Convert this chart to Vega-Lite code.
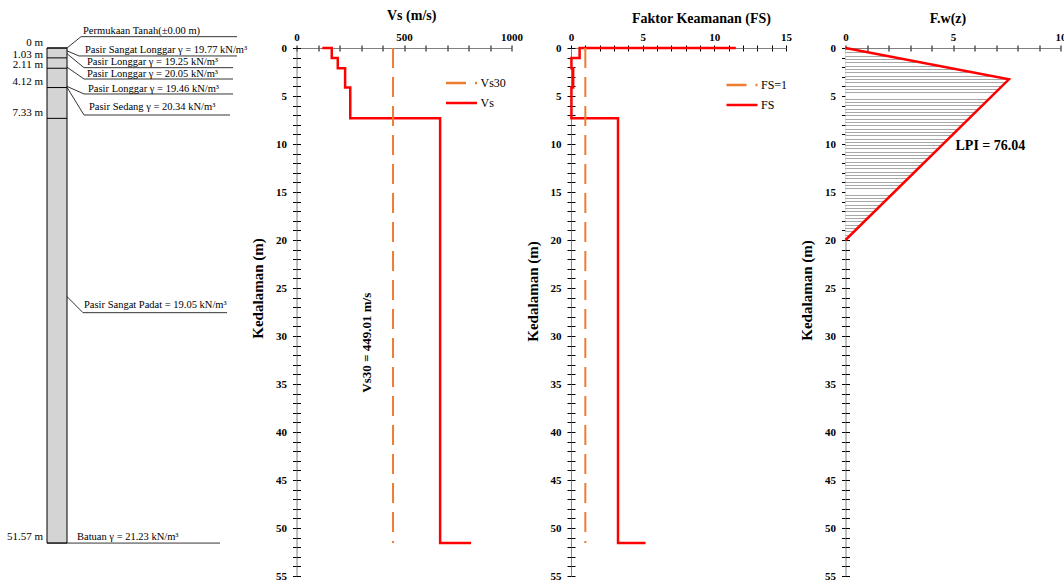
{
  "$schema": "https://vega.github.io/schema/vega-lite/v6.json",
  "background": "white",
  "padding": {"left": 0, "top": 8, "right": 0, "bottom": 0},
  "bounds": "flush",
  "spacing": 59.5,
  "resolve": {"scale": {"color": "independent", "strokeDash": "independent"}, "legend": {"color": "independent", "strokeDash": "independent"}},
  "config": {
    "view": {"stroke": null},
    "font": "Liberation Serif",
    "axis": {"labelFont": "Liberation Serif", "titleFont": "Liberation Serif", "labelColor": "#000", "titleColor": "#000", "labelFontSize": 11, "labelFontWeight": "bold", "titleFontWeight": "bold", "domainColor": "#808080", "domainWidth": 1, "tickColor": "#000", "tickWidth": 1, "grid": false, "labelOverlap": false, "labelFlush": false, "labelBound": false},
    "axisX": {"tickSize": 3, "labelPadding": 3, "titleFontSize": 14},
    "axisY": {"tickSize": 4, "labelPadding": 6, "titleFontSize": 15, "titlePadding": 10},
    "text": {"font": "Liberation Serif"}
  },
  "datasets": {
    "layers": [{"d": 0}, {"d": 1.03}, {"d": 2.11}, {"d": 4.12}, {"d": 7.33}],
    "column": [{"top": 0, "bottom": 51.57}],
    "leaders": [
      {"id": "perm", "o": 0, "x": 67, "d": 0.0}, {"id": "perm", "o": 1, "x": 81, "d": -1.18}, {"id": "perm", "o": 2, "x": 237, "d": -1.18},
      {"id": "psl", "o": 0, "x": 67, "d": 0.3}, {"id": "psl", "o": 1, "x": 79, "d": 0.83}, {"id": "psl", "o": 2, "x": 237, "d": 0.83},
      {"id": "pl1", "o": 0, "x": 67, "d": 0.6}, {"id": "pl1", "o": 1, "x": 84, "d": 2.05}, {"id": "pl1", "o": 2, "x": 233, "d": 2.05},
      {"id": "pl2", "o": 0, "x": 67, "d": 2.0}, {"id": "pl2", "o": 1, "x": 84, "d": 3.23}, {"id": "pl2", "o": 2, "x": 233, "d": 3.23},
      {"id": "pl3", "o": 0, "x": 67, "d": 4.0}, {"id": "pl3", "o": 1, "x": 84, "d": 4.79}, {"id": "pl3", "o": 2, "x": 233, "d": 4.79},
      {"id": "sed", "o": 0, "x": 67, "d": 4.1}, {"id": "sed", "o": 1, "x": 84, "d": 6.98}, {"id": "sed", "o": 2, "x": 230, "d": 6.98},
      {"id": "pad", "o": 0, "x": 67, "d": 25.9}, {"id": "pad", "o": 1, "x": 83, "d": 27.57}, {"id": "pad", "o": 2, "x": 227, "d": 27.57},
      {"id": "bat", "o": 0, "x": 47, "d": 51.57}, {"id": "bat", "o": 1, "x": 220, "d": 51.57}
    ],
    "soilLabels": [
      {"t": "Permukaan Tanah(±0.00 m)", "x": 83, "d": -1.77},
      {"t": "Pasir Sangat  Longgar  γ = 19.77  kN/m³", "x": 85, "d": 0.21},
      {"t": "Pasir Longgar  γ = 19.25 kN/m³", "x": 87, "d": 1.46},
      {"t": "Pasir Longgar  γ = 20.05 kN/m³", "x": 87, "d": 2.76},
      {"t": "Pasir Longgar  γ = 19.46 kN/m³", "x": 88, "d": 4.22},
      {"t": "Pasir Sedang  γ = 20.34 kN/m³", "x": 89, "d": 6.15},
      {"t": "Pasir Sangat  Padat = 19.05 kN/m³", "x": 84, "d": 26.77},
      {"t": "Batuan γ = 21.23 kN/m³", "x": 77, "d": 50.94}
    ],
    "depthLabels": [
      {"t": "0 m", "d": -0.47}, {"t": "1.03 m", "d": 0.73}, {"t": "2.11 m", "d": 1.77},
      {"t": "4.12 m", "d": 3.51}, {"t": "7.33 m", "d": 6.8}, {"t": "51.57 m", "d": 50.94}
    ],
    "vs": [
      {"series": "Vs", "o": 0, "vs": 120, "z": 0}, {"series": "Vs", "o": 1, "vs": 164, "z": 0},
      {"series": "Vs", "o": 2, "vs": 164, "z": 1.03}, {"series": "Vs", "o": 3, "vs": 192, "z": 1.03},
      {"series": "Vs", "o": 4, "vs": 192, "z": 2.11}, {"series": "Vs", "o": 5, "vs": 226, "z": 2.11},
      {"series": "Vs", "o": 6, "vs": 226, "z": 4.12}, {"series": "Vs", "o": 7, "vs": 250, "z": 4.12},
      {"series": "Vs", "o": 8, "vs": 250, "z": 7.33}, {"series": "Vs", "o": 9, "vs": 668, "z": 7.33},
      {"series": "Vs", "o": 10, "vs": 668, "z": 51.57}, {"series": "Vs", "o": 11, "vs": 812, "z": 51.57}
    ],
    "vs30": [{"series": "Vs30", "vs": 449.01, "z": 0, "z2": 51.57}],
    "vsNote": [{"t": "Vs30 = 449.01 m/s", "vs": 330, "z": 30.7}],
    "fs": [
      {"series": "FS", "o": 0, "fs": 11.5, "z": 0}, {"series": "FS", "o": 1, "fs": 0.6, "z": 0},
      {"series": "FS", "o": 2, "fs": 0.6, "z": 1.03}, {"series": "FS", "o": 3, "fs": 0.03, "z": 1.03},
      {"series": "FS", "o": 4, "fs": 0.03, "z": 2.11}, {"series": "FS", "o": 5, "fs": 0.15, "z": 2.11},
      {"series": "FS", "o": 6, "fs": 0.15, "z": 4.12}, {"series": "FS", "o": 7, "fs": 0.03, "z": 4.12},
      {"series": "FS", "o": 8, "fs": 0.03, "z": 7.33}, {"series": "FS", "o": 9, "fs": 3.28, "z": 7.33},
      {"series": "FS", "o": 10, "fs": 3.28, "z": 51.57}, {"series": "FS", "o": 11, "fs": 5.2, "z": 51.57}
    ],
    "fs1": [{"series": "FS=1", "fs": 1, "z": 0, "z2": 51.57}],
    "fw": [{"o": 0, "fw": 0, "z": 0}, {"o": 1, "fw": 7.6, "z": 3.26}, {"o": 2, "fw": 0, "z": 20}],
    "lpi": [{"t": "LPI = 76.04", "fw": 6.74, "z": 10.2}]
  },
  "hconcat": [
    {
      "width": 237,
      "height": 528,
      "layer": [
        {
          "data": {"name": "column"},
          "mark": {"type": "rect", "fill": "#d4d4d4", "stroke": "#000", "strokeWidth": 1},
          "encoding": {
            "x": {"datum": 47, "type": "quantitative", "scale": {"domain": [0, 237], "nice": false, "zero": false}, "axis": null},
            "x2": {"datum": 67},
            "y": {"field": "top", "type": "quantitative", "scale": {"domain": [0, 55], "reverse": true, "nice": false, "zero": false}, "axis": null},
            "y2": {"field": "bottom"}
          }
        },
        {
          "data": {"name": "layers"},
          "mark": {"type": "rule", "stroke": "#000", "strokeWidth": 1},
          "encoding": {
            "x": {"datum": 47, "type": "quantitative"},
            "x2": {"datum": 67},
            "y": {"field": "d", "type": "quantitative"}
          }
        },
        {
          "data": {"name": "leaders"},
          "mark": {"type": "line", "stroke": "#000", "strokeWidth": 0.8},
          "encoding": {
            "x": {"field": "x", "type": "quantitative"},
            "y": {"field": "d", "type": "quantitative"},
            "detail": {"field": "id"},
            "order": {"field": "o", "type": "quantitative"}
          }
        },
        {
          "data": {"name": "soilLabels"},
          "mark": {"type": "text", "align": "left", "baseline": "middle", "fontSize": 10.5, "color": "#000"},
          "encoding": {
            "x": {"field": "x", "type": "quantitative"},
            "y": {"field": "d", "type": "quantitative"},
            "text": {"field": "t"}
          }
        },
        {
          "data": {"name": "depthLabels"},
          "mark": {"type": "text", "align": "right", "baseline": "middle", "fontSize": 11, "color": "#000"},
          "encoding": {
            "x": {"datum": 43, "type": "quantitative"},
            "y": {"field": "d", "type": "quantitative"},
            "text": {"field": "t"}
          }
        }
      ]
    },
    {
      "width": 215,
      "height": 528,
      "layer": [
        {
          "data": {"name": "vs"},
          "mark": {"type": "line", "strokeWidth": 2.5},
          "encoding": {
            "x": {"field": "vs", "type": "quantitative", "scale": {"domain": [0, 1000], "nice": false, "zero": false},
                  "axis": {"orient": "top", "title": "Vs (m/s)", "titleX": 114.7, "titleY": -33, "titleBaseline": "middle", "tickCount": 10, "format": "d", "labelExpr": "datum.value % 500 === 0 ? datum.label : ''"}},
            "y": {"field": "z", "type": "quantitative", "scale": {"domain": [0, 55], "nice": false, "zero": false, "reverse": true},
                  "axis": {"orient": "left", "title": "Kedalaman (m)", "titleY": 240, "tickCount": 55, "labelExpr": "datum.value % 5 === 0 ? datum.label : ''"}},
            "order": {"field": "o", "type": "quantitative"},
            "color": {"field": "series", "type": "nominal", "scale": {"domain": ["Vs30", "Vs"], "range": ["#ED7D31", "#FF0000"]},
                      "legend": {"title": null, "orient": "none", "legendX": 148, "legendY": 28, "symbolType": "stroke", "symbolSize": 961, "symbolStrokeWidth": 2.5, "clipHeight": 14, "rowPadding": 6, "labelFont": "Liberation Serif", "labelFontSize": 12, "labelColor": "#000", "labelOffset": 2, "padding": 0}},
            "strokeDash": {"field": "series", "type": "nominal", "scale": {"domain": ["Vs30", "Vs"], "range": [[20, 9], [1, 0]]},
                      "legend": {"title": null, "orient": "none", "legendX": 148, "legendY": 28, "symbolType": "stroke", "symbolSize": 961, "symbolStrokeWidth": 2.5, "clipHeight": 14, "rowPadding": 6, "labelFont": "Liberation Serif", "labelFontSize": 12, "labelColor": "#000", "labelOffset": 2, "padding": 0}}
          }
        },
        {
          "data": {"name": "vs30"},
          "mark": {"type": "rule", "strokeWidth": 2},
          "encoding": {
            "x": {"field": "vs", "type": "quantitative", "axis": {"orient": "top", "tickSize": -3, "labels": false, "domain": false, "title": null, "tickCount": 10}},
            "y": {"field": "z", "type": "quantitative", "axis": {"orient": "left", "tickSize": -4, "labels": false, "domain": false, "title": null, "tickCount": 55}},
            "y2": {"field": "z2"},
            "color": {"field": "series", "type": "nominal"},
            "strokeDash": {"field": "series", "type": "nominal"}
          }
        },
        {
          "data": {"name": "vsNote"},
          "mark": {"type": "text", "angle": 270, "fontSize": 13, "fontWeight": "bold", "align": "center", "baseline": "middle", "color": "#000"},
          "encoding": {
            "x": {"field": "vs", "type": "quantitative", "axis": null},
            "y": {"field": "z", "type": "quantitative", "axis": null},
            "text": {"field": "t"}
          }
        }
      ],
      "resolve": {"axis": {"x": "independent", "y": "independent"}}
    },
    {
      "width": 215,
      "height": 528,
      "layer": [
        {
          "data": {"name": "fs"},
          "mark": {"type": "line", "strokeWidth": 2.5},
          "encoding": {
            "x": {"field": "fs", "type": "quantitative", "scale": {"domain": [0, 15], "nice": false, "zero": false},
                  "axis": {"orient": "top", "title": "Faktor  Keamanan (FS)", "titleX": 130, "titleY": -30, "titleBaseline": "middle", "tickCount": 15, "labelExpr": "datum.value % 5 === 0 ? datum.label : ''"}},
            "y": {"field": "z", "type": "quantitative", "scale": {"domain": [0, 55], "nice": false, "zero": false, "reverse": true},
                  "axis": {"orient": "left", "title": "Kedalaman (m)", "titleY": 243, "tickCount": 55, "labelExpr": "datum.value % 5 === 0 ? datum.label : ''"}},
            "order": {"field": "o", "type": "quantitative"},
            "color": {"field": "series", "type": "nominal", "scale": {"domain": ["FS=1", "FS"], "range": ["#ED7D31", "#FF0000"]},
                      "legend": {"title": null, "orient": "none", "legendX": 154, "legendY": 30, "symbolType": "stroke", "symbolSize": 961, "symbolStrokeWidth": 2.5, "clipHeight": 14, "rowPadding": 6, "labelFont": "Liberation Serif", "labelFontSize": 12, "labelColor": "#000", "labelOffset": 2, "padding": 0}},
            "strokeDash": {"field": "series", "type": "nominal", "scale": {"domain": ["FS=1", "FS"], "range": [[20, 9], [1, 0]]},
                      "legend": {"title": null, "orient": "none", "legendX": 154, "legendY": 30, "symbolType": "stroke", "symbolSize": 961, "symbolStrokeWidth": 2.5, "clipHeight": 14, "rowPadding": 6, "labelFont": "Liberation Serif", "labelFontSize": 12, "labelColor": "#000", "labelOffset": 2, "padding": 0}}
          }
        },
        {
          "data": {"name": "fs1"},
          "mark": {"type": "rule", "strokeWidth": 2},
          "encoding": {
            "x": {"field": "fs", "type": "quantitative", "axis": {"orient": "top", "tickSize": -3, "labels": false, "domain": false, "title": null, "tickCount": 15}},
            "y": {"field": "z", "type": "quantitative", "axis": {"orient": "left", "tickSize": -4, "labels": false, "domain": false, "title": null, "tickCount": 55}},
            "y2": {"field": "z2"},
            "color": {"field": "series", "type": "nominal"},
            "strokeDash": {"field": "series", "type": "nominal"}
          }
        }
      ],
      "resolve": {"axis": {"x": "independent", "y": "independent"}}
    },
    {
      "width": 215,
      "height": 528,
      "layer": [
        {
          "data": {"name": "fw"},
          "mark": {"type": "area", "orient": "horizontal", "stroke": null,
                   "fill": {"gradient": "linear", "x1": 0, "y1": 0, "x2": 0, "y2": 1, "stops": [
                     {"offset": 0, "color": "#fff"},
                     {"offset": 0.0060, "color": "#fff"}, {"offset": 0.0060, "color": "#a8a8a8"}, {"offset": 0.0112, "color": "#a8a8a8"}, {"offset": 0.0112, "color": "#fff"},
                     {"offset": 0.0233, "color": "#fff"}, {"offset": 0.0233, "color": "#a8a8a8"}, {"offset": 0.0285, "color": "#a8a8a8"}, {"offset": 0.0285, "color": "#fff"},
                     {"offset": 0.0405, "color": "#fff"}, {"offset": 0.0405, "color": "#a8a8a8"}, {"offset": 0.0457, "color": "#a8a8a8"}, {"offset": 0.0457, "color": "#fff"},
                     {"offset": 0.0577, "color": "#fff"}, {"offset": 0.0577, "color": "#a8a8a8"}, {"offset": 0.0629, "color": "#a8a8a8"}, {"offset": 0.0629, "color": "#fff"},
                     {"offset": 0.0750, "color": "#fff"}, {"offset": 0.0750, "color": "#a8a8a8"}, {"offset": 0.0802, "color": "#a8a8a8"}, {"offset": 0.0802, "color": "#fff"},
                     {"offset": 0.0922, "color": "#fff"}, {"offset": 0.0922, "color": "#a8a8a8"}, {"offset": 0.0974, "color": "#a8a8a8"}, {"offset": 0.0974, "color": "#fff"},
                     {"offset": 0.1095, "color": "#fff"}, {"offset": 0.1095, "color": "#a8a8a8"}, {"offset": 0.1147, "color": "#a8a8a8"}, {"offset": 0.1147, "color": "#fff"},
                     {"offset": 0.1267, "color": "#fff"}, {"offset": 0.1267, "color": "#a8a8a8"}, {"offset": 0.1319, "color": "#a8a8a8"}, {"offset": 0.1319, "color": "#fff"},
                     {"offset": 0.1440, "color": "#fff"}, {"offset": 0.1440, "color": "#a8a8a8"}, {"offset": 0.1492, "color": "#a8a8a8"}, {"offset": 0.1492, "color": "#fff"},
                     {"offset": 0.1612, "color": "#fff"}, {"offset": 0.1612, "color": "#a8a8a8"}, {"offset": 0.1664, "color": "#a8a8a8"}, {"offset": 0.1664, "color": "#fff"},
                     {"offset": 0.1784, "color": "#fff"}, {"offset": 0.1784, "color": "#a8a8a8"}, {"offset": 0.1836, "color": "#a8a8a8"}, {"offset": 0.1836, "color": "#fff"},
                     {"offset": 0.1957, "color": "#fff"}, {"offset": 0.1957, "color": "#a8a8a8"}, {"offset": 0.2009, "color": "#a8a8a8"}, {"offset": 0.2009, "color": "#fff"},
                     {"offset": 0.2129, "color": "#fff"}, {"offset": 0.2129, "color": "#a8a8a8"}, {"offset": 0.2181, "color": "#a8a8a8"}, {"offset": 0.2181, "color": "#fff"},
                     {"offset": 0.2302, "color": "#fff"}, {"offset": 0.2302, "color": "#a8a8a8"}, {"offset": 0.2354, "color": "#a8a8a8"}, {"offset": 0.2354, "color": "#fff"},
                     {"offset": 0.2474, "color": "#fff"}, {"offset": 0.2474, "color": "#a8a8a8"}, {"offset": 0.2526, "color": "#a8a8a8"}, {"offset": 0.2526, "color": "#fff"},
                     {"offset": 0.2646, "color": "#fff"}, {"offset": 0.2646, "color": "#a8a8a8"}, {"offset": 0.2698, "color": "#a8a8a8"}, {"offset": 0.2698, "color": "#fff"},
                     {"offset": 0.2819, "color": "#fff"}, {"offset": 0.2819, "color": "#a8a8a8"}, {"offset": 0.2871, "color": "#a8a8a8"}, {"offset": 0.2871, "color": "#fff"},
                     {"offset": 0.2991, "color": "#fff"}, {"offset": 0.2991, "color": "#a8a8a8"}, {"offset": 0.3043, "color": "#a8a8a8"}, {"offset": 0.3043, "color": "#fff"},
                     {"offset": 0.3164, "color": "#fff"}, {"offset": 0.3164, "color": "#a8a8a8"}, {"offset": 0.3216, "color": "#a8a8a8"}, {"offset": 0.3216, "color": "#fff"},
                     {"offset": 0.3336, "color": "#fff"}, {"offset": 0.3336, "color": "#a8a8a8"}, {"offset": 0.3388, "color": "#a8a8a8"}, {"offset": 0.3388, "color": "#fff"},
                     {"offset": 0.3509, "color": "#fff"}, {"offset": 0.3509, "color": "#a8a8a8"}, {"offset": 0.3561, "color": "#a8a8a8"}, {"offset": 0.3561, "color": "#fff"},
                     {"offset": 0.3681, "color": "#fff"}, {"offset": 0.3681, "color": "#a8a8a8"}, {"offset": 0.3733, "color": "#a8a8a8"}, {"offset": 0.3733, "color": "#fff"},
                     {"offset": 0.3853, "color": "#fff"}, {"offset": 0.3853, "color": "#a8a8a8"}, {"offset": 0.3905, "color": "#a8a8a8"}, {"offset": 0.3905, "color": "#fff"},
                     {"offset": 0.4026, "color": "#fff"}, {"offset": 0.4026, "color": "#a8a8a8"}, {"offset": 0.4078, "color": "#a8a8a8"}, {"offset": 0.4078, "color": "#fff"},
                     {"offset": 0.4198, "color": "#fff"}, {"offset": 0.4198, "color": "#a8a8a8"}, {"offset": 0.4250, "color": "#a8a8a8"}, {"offset": 0.4250, "color": "#fff"},
                     {"offset": 0.4371, "color": "#fff"}, {"offset": 0.4371, "color": "#a8a8a8"}, {"offset": 0.4423, "color": "#a8a8a8"}, {"offset": 0.4423, "color": "#fff"},
                     {"offset": 0.4543, "color": "#fff"}, {"offset": 0.4543, "color": "#a8a8a8"}, {"offset": 0.4595, "color": "#a8a8a8"}, {"offset": 0.4595, "color": "#fff"},
                     {"offset": 0.4715, "color": "#fff"}, {"offset": 0.4715, "color": "#a8a8a8"}, {"offset": 0.4767, "color": "#a8a8a8"}, {"offset": 0.4767, "color": "#fff"},
                     {"offset": 0.4888, "color": "#fff"}, {"offset": 0.4888, "color": "#a8a8a8"}, {"offset": 0.4940, "color": "#a8a8a8"}, {"offset": 0.4940, "color": "#fff"},
                     {"offset": 0.5060, "color": "#fff"}, {"offset": 0.5060, "color": "#a8a8a8"}, {"offset": 0.5112, "color": "#a8a8a8"}, {"offset": 0.5112, "color": "#fff"},
                     {"offset": 0.5233, "color": "#fff"}, {"offset": 0.5233, "color": "#a8a8a8"}, {"offset": 0.5285, "color": "#a8a8a8"}, {"offset": 0.5285, "color": "#fff"},
                     {"offset": 0.5405, "color": "#fff"}, {"offset": 0.5405, "color": "#a8a8a8"}, {"offset": 0.5457, "color": "#a8a8a8"}, {"offset": 0.5457, "color": "#fff"},
                     {"offset": 0.5577, "color": "#fff"}, {"offset": 0.5577, "color": "#a8a8a8"}, {"offset": 0.5629, "color": "#a8a8a8"}, {"offset": 0.5629, "color": "#fff"},
                     {"offset": 0.5750, "color": "#fff"}, {"offset": 0.5750, "color": "#a8a8a8"}, {"offset": 0.5802, "color": "#a8a8a8"}, {"offset": 0.5802, "color": "#fff"},
                     {"offset": 0.5922, "color": "#fff"}, {"offset": 0.5922, "color": "#a8a8a8"}, {"offset": 0.5974, "color": "#a8a8a8"}, {"offset": 0.5974, "color": "#fff"},
                     {"offset": 0.6095, "color": "#fff"}, {"offset": 0.6095, "color": "#a8a8a8"}, {"offset": 0.6147, "color": "#a8a8a8"}, {"offset": 0.6147, "color": "#fff"},
                     {"offset": 0.6267, "color": "#fff"}, {"offset": 0.6267, "color": "#a8a8a8"}, {"offset": 0.6319, "color": "#a8a8a8"}, {"offset": 0.6319, "color": "#fff"},
                     {"offset": 0.6440, "color": "#fff"}, {"offset": 0.6440, "color": "#a8a8a8"}, {"offset": 0.6492, "color": "#a8a8a8"}, {"offset": 0.6492, "color": "#fff"},
                     {"offset": 0.6612, "color": "#fff"}, {"offset": 0.6612, "color": "#a8a8a8"}, {"offset": 0.6664, "color": "#a8a8a8"}, {"offset": 0.6664, "color": "#fff"},
                     {"offset": 0.6784, "color": "#fff"}, {"offset": 0.6784, "color": "#a8a8a8"}, {"offset": 0.6836, "color": "#a8a8a8"}, {"offset": 0.6836, "color": "#fff"},
                     {"offset": 0.6957, "color": "#fff"}, {"offset": 0.6957, "color": "#a8a8a8"}, {"offset": 0.7009, "color": "#a8a8a8"}, {"offset": 0.7009, "color": "#fff"},
                     {"offset": 0.7129, "color": "#fff"}, {"offset": 0.7129, "color": "#a8a8a8"}, {"offset": 0.7181, "color": "#a8a8a8"}, {"offset": 0.7181, "color": "#fff"},
                     {"offset": 0.7302, "color": "#fff"}, {"offset": 0.7302, "color": "#a8a8a8"}, {"offset": 0.7354, "color": "#a8a8a8"}, {"offset": 0.7354, "color": "#fff"},
                     {"offset": 0.7474, "color": "#fff"}, {"offset": 0.7474, "color": "#a8a8a8"}, {"offset": 0.7526, "color": "#a8a8a8"}, {"offset": 0.7526, "color": "#fff"},
                     {"offset": 0.7646, "color": "#fff"}, {"offset": 0.7646, "color": "#a8a8a8"}, {"offset": 0.7698, "color": "#a8a8a8"}, {"offset": 0.7698, "color": "#fff"},
                     {"offset": 0.7819, "color": "#fff"}, {"offset": 0.7819, "color": "#a8a8a8"}, {"offset": 0.7871, "color": "#a8a8a8"}, {"offset": 0.7871, "color": "#fff"},
                     {"offset": 0.7991, "color": "#fff"}, {"offset": 0.7991, "color": "#a8a8a8"}, {"offset": 0.8043, "color": "#a8a8a8"}, {"offset": 0.8043, "color": "#fff"},
                     {"offset": 0.8164, "color": "#fff"}, {"offset": 0.8164, "color": "#a8a8a8"}, {"offset": 0.8216, "color": "#a8a8a8"}, {"offset": 0.8216, "color": "#fff"},
                     {"offset": 0.8336, "color": "#fff"}, {"offset": 0.8336, "color": "#a8a8a8"}, {"offset": 0.8388, "color": "#a8a8a8"}, {"offset": 0.8388, "color": "#fff"},
                     {"offset": 0.8509, "color": "#fff"}, {"offset": 0.8509, "color": "#a8a8a8"}, {"offset": 0.8561, "color": "#a8a8a8"}, {"offset": 0.8561, "color": "#fff"},
                     {"offset": 0.8681, "color": "#fff"}, {"offset": 0.8681, "color": "#a8a8a8"}, {"offset": 0.8733, "color": "#a8a8a8"}, {"offset": 0.8733, "color": "#fff"},
                     {"offset": 0.8853, "color": "#fff"}, {"offset": 0.8853, "color": "#a8a8a8"}, {"offset": 0.8905, "color": "#a8a8a8"}, {"offset": 0.8905, "color": "#fff"},
                     {"offset": 0.9026, "color": "#fff"}, {"offset": 0.9026, "color": "#a8a8a8"}, {"offset": 0.9078, "color": "#a8a8a8"}, {"offset": 0.9078, "color": "#fff"},
                     {"offset": 0.9198, "color": "#fff"}, {"offset": 0.9198, "color": "#a8a8a8"}, {"offset": 0.9250, "color": "#a8a8a8"}, {"offset": 0.9250, "color": "#fff"},
                     {"offset": 0.9371, "color": "#fff"}, {"offset": 0.9371, "color": "#a8a8a8"}, {"offset": 0.9423, "color": "#a8a8a8"}, {"offset": 0.9423, "color": "#fff"},
                     {"offset": 0.9543, "color": "#fff"}, {"offset": 0.9543, "color": "#a8a8a8"}, {"offset": 0.9595, "color": "#a8a8a8"}, {"offset": 0.9595, "color": "#fff"},
                     {"offset": 0.9715, "color": "#fff"}, {"offset": 0.9715, "color": "#a8a8a8"}, {"offset": 0.9767, "color": "#a8a8a8"}, {"offset": 0.9767, "color": "#fff"},
                     {"offset": 0.9888, "color": "#fff"}, {"offset": 0.9888, "color": "#a8a8a8"}, {"offset": 0.9940, "color": "#a8a8a8"}, {"offset": 0.9940, "color": "#fff"},
                     {"offset": 1, "color": "#fff"}
                   ]}},
          "encoding": {
            "x": {"field": "fw", "type": "quantitative", "scale": {"domain": [0, 10], "nice": false, "zero": false},
                  "axis": {"orient": "top", "title": "F.w(z)", "titleX": 102, "titleY": -30, "titleBaseline": "middle", "tickCount": 10, "labelExpr": "datum.value % 5 === 0 ? datum.label : ''"}},
            "x2": {"datum": 0},
            "y": {"field": "z", "type": "quantitative", "scale": {"domain": [0, 55], "nice": false, "zero": false, "reverse": true},
                  "axis": {"orient": "left", "title": "Kedalaman (m)", "titleY": 242, "tickCount": 55, "labelExpr": "datum.value % 5 === 0 ? datum.label : ''"}}
          }
        },
        {
          "data": {"name": "fw"},
          "mark": {"type": "line", "stroke": "#FF0000", "strokeWidth": 2.5},
          "encoding": {
            "x": {"field": "fw", "type": "quantitative", "axis": {"orient": "top", "tickSize": -3, "labels": false, "domain": false, "title": null, "tickCount": 10}},
            "y": {"field": "z", "type": "quantitative", "axis": {"orient": "left", "tickSize": -4, "labels": false, "domain": false, "title": null, "tickCount": 55}},
            "order": {"field": "o", "type": "quantitative"}
          }
        },
        {
          "data": {"name": "lpi"},
          "mark": {"type": "text", "fontSize": 14, "fontWeight": "bold", "align": "center", "baseline": "middle", "color": "#000"},
          "encoding": {
            "x": {"field": "fw", "type": "quantitative", "axis": null},
            "y": {"field": "z", "type": "quantitative", "axis": null},
            "text": {"field": "t"}
          }
        }
      ],
      "resolve": {"axis": {"x": "independent", "y": "independent"}}
    }
  ]
}
